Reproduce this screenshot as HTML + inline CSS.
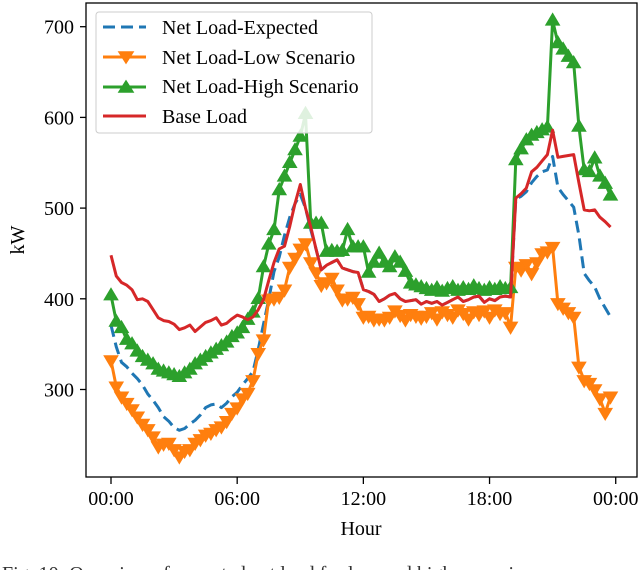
<!DOCTYPE html>
<html><head><meta charset="utf-8"><style>
body{margin:0;background:#fff;}
svg{display:block;font-family:"Liberation Serif",serif;}
</style></head><body>
<svg id="chart" width="640" height="570" viewBox="0 0 640 570">
<rect x="0" y="0" width="640" height="570" fill="#fff"/>
<g id="series"></g>
<rect x="86" y="3" width="551" height="474" fill="none" stroke="#000" stroke-width="1.3"/>
<g id="yticks"></g>
<g id="xticks"></g>
<text x="24" y="240" font-size="20" text-anchor="middle" transform="rotate(-90 24 240)">kW</text>
<text x="361" y="535" font-size="20" text-anchor="middle">Hour</text>
<text x="2" y="580" font-size="20" fill="#333">Fig. 10: Overview of expected net load for low and high scenarios</text>
<g>
<rect x="96" y="12" width="276" height="121" rx="3" fill="#fff" fill-opacity="0.85" stroke="#ccc" stroke-width="1"/>
<g>
<line x1="103" y1="27" x2="146" y2="27" stroke="#1f77b4" stroke-width="3" stroke-dasharray="12,6"/>
<text x="162" y="34" font-size="20">Net Load-Expected</text></g>
<g>
<line x1="103" y1="57" x2="146" y2="57" stroke="#ff7f0e" stroke-width="3"/>
<path d="M119,52 L133,52 L126,63 Z" fill="#ff7f0e" stroke="#ff7f0e" stroke-width="1.5"/>
<text x="162" y="64" font-size="20">Net Load-Low Scenario</text></g>
<g>
<line x1="103" y1="87" x2="146" y2="87" stroke="#2ca02c" stroke-width="3"/>
<path d="M119,92 L133,92 L126,81 Z" fill="#2ca02c" stroke="#2ca02c" stroke-width="1.5"/>
<text x="162" y="93" font-size="20">Net Load-High Scenario</text></g>
<g>
<line x1="103" y1="116" x2="146" y2="116" stroke="#d62728" stroke-width="3"/>
<text x="162" y="123" font-size="20">Base Load</text></g>
</g>
</svg>
<script>
const yTickValues=[300,400,500,600,700];
const xTickHours=[0,6,12,18,24];
const xTickLabels=["00:00","06:00","12:00","18:00","00:00"];
const expected=[371,347,330,325,318,312,305,295,288,280,270,265,258,255,257,262,266,272,280,283,284,280,285,292,297,305,312,320,344,372,399,430,446,470,490,505,515,500,476,455,432,437,440,443,434,432,430,429,410,408,405,397,400,404,406,400,397,398,399,394,397,395,397,393,396,399,402,397,399,402,403,396,400,398,402,403,402,510,513,518,528,535,540,542,557,523,515,508,501,470,428,420,413,400,390,380];
const lowScenario=[332,303,292,285,278,270,262,256,248,237,240,241,234,226,232,234,241,245,250,252,256,259,265,274,280,290,296,310,340,355,399,400,402,410,435,445,455,461,440,429,415,418,423,410,399,400,402,395,380,381,377,378,377,380,387,382,377,383,381,379,381,385,378,386,383,380,388,384,378,386,383,387,380,388,384,385,369,435,432,438,428,440,450,452,457,395,390,385,380,325,310,307,300,290,274,292];
const highScenario=[404,375,368,355,350,342,336,332,328,322,320,318,316,314,318,322,328,332,336,340,344,348,352,358,362,368,377,385,400,435,460,476,520,535,550,564,579,604,483,483,483,452,453,452,453,476,457,457,457,429,440,450,440,435,446,440,430,417,415,413,411,409,412,408,411,413,409,412,410,414,411,409,412,410,413,411,412,553,565,575,580,583,586,589,707,682,675,667,660,590,542,540,555,535,527,514];
const baseLoad=[448,425,418,415,410,399,400,397,388,379,376,375,372,366,368,371,364,369,374,376,379,371,373,378,382,380,377,380,388,399,420,440,455,458,480,505,526,500,479,455,432,437,440,443,434,432,430,429,410,408,405,397,400,404,406,400,397,398,399,394,397,395,397,393,396,399,402,397,399,402,403,396,400,398,402,403,402,511,516,522,540,545,552,559,586,556,557,558,559,528,498,497,498,490,485,479];

const NS="http://www.w3.org/2000/svg";
function xScale(h){return 111+h*21.03;}
function yScale(v){return 26.7+(700-v)*0.907;}
const yt=document.getElementById('yticks');
yTickValues.forEach(v=>{
  const y=yScale(v);
  const l=document.createElementNS(NS,'line');
  l.setAttribute('x1',80);l.setAttribute('x2',86);l.setAttribute('y1',y);l.setAttribute('y2',y);
  l.setAttribute('stroke','#000');l.setAttribute('stroke-width','1.3');
  
  
  yt.appendChild(l);
  const t=document.createElementNS(NS,'text');
  t.setAttribute('x',74);t.setAttribute('y',y+7);t.setAttribute('text-anchor','end');t.setAttribute('font-size','20');
  t.textContent=v;
  
  
  yt.appendChild(t);
});
const xt=document.getElementById('xticks');
xTickHours.forEach((h,i)=>{
  const x=xScale(h);
  const l=document.createElementNS(NS,'line');
  l.setAttribute('x1',x);l.setAttribute('x2',x);l.setAttribute('y1',477);l.setAttribute('y2',484);
  l.setAttribute('stroke','#000');l.setAttribute('stroke-width','1.3');
  
  
  xt.appendChild(l);
  const t=document.createElementNS(NS,'text');
  t.setAttribute('x',x);t.setAttribute('y',505);t.setAttribute('text-anchor','middle');t.setAttribute('font-size','20');
  t.textContent=xTickLabels[i];
  
  
  xt.appendChild(t);
});
const sg=document.getElementById('series');
function drawSeries(vals,color,dash,marker,name){
  const g=document.createElementNS(NS,'g');
  
  
  const pts=vals.map((v,i)=>xScale(i/4).toFixed(1)+','+yScale(v).toFixed(1)).join(' ');
  const pl=document.createElementNS(NS,'polyline');
  pl.setAttribute('points',pts);pl.setAttribute('fill','none');pl.setAttribute('stroke',color);
  pl.setAttribute('stroke-width','3');pl.setAttribute('stroke-linejoin','round');
  if(dash)pl.setAttribute('stroke-dasharray',dash);
  
  
  g.appendChild(pl);
  if(marker){
    vals.forEach((v,i)=>{
      const x=xScale(i/4),y=yScale(v);
      const p=document.createElementNS(NS,'path');
      const d=marker==='down'?`M${x-6.5},${y-4.5} L${x+6.5},${y-4.5} L${x},${y+6.5} Z`:`M${x-6.5},${y+4.5} L${x+6.5},${y+4.5} L${x},${y-6.5} Z`;
      p.setAttribute('d',d);p.setAttribute('fill',color);p.setAttribute('stroke',color);p.setAttribute('stroke-width','1.5');
      
      
      g.appendChild(p);
    });
  }
  sg.appendChild(g);
}
drawSeries(expected,'#1f77b4','12,6',null,'expected-series');
drawSeries(lowScenario,'#ff7f0e',null,'down','low-scenario-series');
drawSeries(highScenario,'#2ca02c',null,'up','high-scenario-series');
drawSeries(baseLoad,'#d62728',null,null,'base-load-series');
</script>
</body></html>
